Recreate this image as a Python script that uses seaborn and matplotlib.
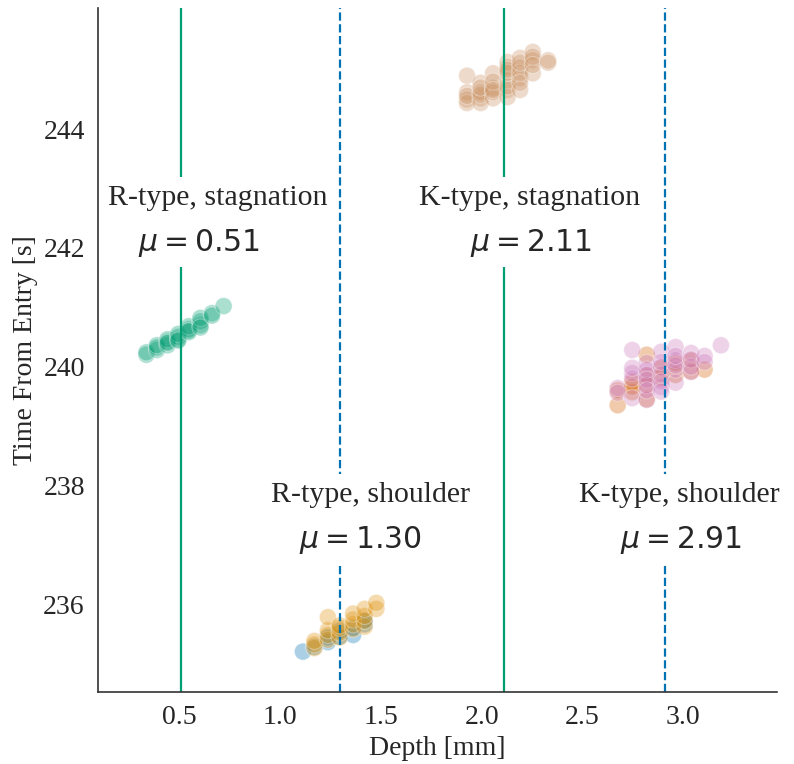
import numpy as np
import pandas as pd
import matplotlib
matplotlib.use("Agg")
import matplotlib.pyplot as plt
import seaborn as sns

# Measured samples: depth [mm] and time from entry [s], per wave group
r_stag_x = [0.338, 0.338, 0.390, 0.390, 0.390, 0.443, 0.443, 0.443, 0.443,
            0.496, 0.496, 0.496, 0.496, 0.548, 0.548, 0.548, 0.548,
            0.606, 0.606, 0.606, 0.606, 0.663, 0.663, 0.721]
r_stag_y = [240.20, 240.24, 240.28, 240.32, 240.36, 240.36, 240.42, 240.46, 240.40,
            240.46, 240.50, 240.55, 240.44, 240.58, 240.63, 240.68, 240.60,
            240.70, 240.76, 240.82, 240.66, 240.90, 240.86, 241.02]

r_sh_a_x = [1.114, 1.171, 1.238, 1.238, 1.296, 1.296, 1.363, 1.363, 1.420, 1.420]
r_sh_a_y = [235.20, 235.28, 235.36, 235.44, 235.45, 235.55, 235.48, 235.60, 235.66, 235.72]
r_sh_b_x = [1.171, 1.171, 1.171, 1.238, 1.238, 1.238, 1.238, 1.296, 1.296, 1.296, 1.296,
            1.363, 1.363, 1.363, 1.363, 1.420, 1.420, 1.420, 1.420, 1.478, 1.478]
r_sh_b_y = [235.26, 235.32, 235.38, 235.40, 235.48, 235.56, 235.78, 235.44, 235.52, 235.60, 235.64,
            235.58, 235.66, 235.74, 235.84, 235.62, 235.72, 235.80, 235.92, 235.92, 236.02]

k_stag_x = [1.928] * 5 + [1.995] * 6 + [2.057] * 6 + [2.129] * 8 + [2.191] * 7 + [2.254] * 5 + [2.330] * 2
k_stag_y = [244.90, 244.62, 244.50, 244.44, 244.56,
            244.78, 244.52, 244.44, 244.62, 244.58, 244.70,
            244.94, 244.70, 244.52, 244.62, 244.80, 244.66,
            245.13, 245.05, 244.82, 244.66, 244.54, 244.72, 244.95, 245.00,
            245.20, 245.04, 244.86, 244.66, 244.95, 244.78, 245.12,
            245.30, 245.16, 244.94, 245.22, 245.08,
            245.16, 245.12]

k_sh_a_x = [2.675, 2.675, 2.747, 2.747, 2.747, 2.819, 2.819, 2.819, 2.819,
            2.891, 2.891, 2.962, 2.962, 3.039, 3.039, 3.106]
k_sh_a_y = [239.35, 239.60, 239.57, 239.74, 239.66, 240.20, 239.45, 239.69, 239.85,
            239.81, 239.98, 239.86, 240.06, 239.92, 240.10, 239.95]
k_sh_b_x = [2.675] * 2 + [2.747] * 5 + [2.819] * 7 + [2.891] * 7 + [2.962] * 6 + [3.039] * 4 + [3.106] * 2 + [3.187]
k_sh_b_y = [239.64, 239.56,
            240.28, 239.89, 239.80, 239.47, 239.98,
            240.06, 239.86, 239.44, 239.69, 239.95, 239.78, 239.60,
            240.25, 239.99, 239.66, 239.87, 240.08, 239.75, 239.58,
            240.33, 240.11, 239.73, 239.95, 240.02, 240.18,
            240.23, 239.91, 240.00, 240.12,
            240.18, 240.08,
            240.36]

group_names = ["r_sh_a", "r_sh_b", "r_stag", "k_sh_a", "k_sh_b", "k_stag"]
group_data = [(r_sh_a_x, r_sh_a_y), (r_sh_b_x, r_sh_b_y), (r_stag_x, r_stag_y),
              (k_sh_a_x, k_sh_a_y), (k_sh_b_x, k_sh_b_y), (k_stag_x, k_stag_y)]

stag_means = [0.51, 2.11]
shoulder_means = [1.30, 2.91]
label_titles = ["R-type, stagnation", "K-type, stagnation", "R-type, shoulder", "K-type, shoulder"]
label_means = [0.51, 2.11, 1.30, 2.91]

frames = [pd.DataFrame({"Depth": gx, "Time": gy, "group": name})
          for name, (gx, gy) in zip(group_names, group_data)]
df = pd.concat(frames, ignore_index=True)

sns.set_theme(style="white")
plt.rcParams["font.family"] = ["Liberation Serif", "DejaVu Serif"]
plt.rcParams["mathtext.fontset"] = "dejavusans"

cb = sns.color_palette("colorblind")
palette = dict(zip(group_names, cb[:6]))

fig = plt.figure(figsize=(7.94, 7.64), dpi=100)
ax = fig.add_axes([98 / 794, 1 - 692 / 764, (777 - 98) / 794, (692 - 8) / 764])

sns.scatterplot(data=df, x="Depth", y="Time", hue="group", palette=palette,
                s=150, alpha=0.33, edgecolor="white", linewidth=0.8,
                legend=False, ax=ax, zorder=2)

for m in stag_means:
    ax.axvline(m, color=cb[2], lw=1.6, zorder=3)
for m in shoulder_means:
    ax.axvline(m, color=cb[0], lw=1.6, ls="--", zorder=3)

box = dict(facecolor="white", edgecolor="none", pad=6)
title_pos = [(0.693, 242.84), (2.240, 242.84), (1.447, 237.84), (2.979, 237.84)]
mean_pos = [(0.599, 242.08), (2.245, 242.08), (1.397, 237.08), (2.989, 237.08)]
for title, m, (tx, ty), (mx, my) in zip(label_titles, label_means, title_pos, mean_pos):
    ax.text(tx, ty, title, ha="center", va="center", fontsize=21.5, bbox=box, zorder=4)
    ax.text(mx, my, rf"$\mu = {m:.2f}$", ha="center", va="center", fontsize=21.5,
            bbox=box, zorder=5)

ax.set_xlim(0.098, 3.465)
ax.set_ylim(234.52, 246.04)
ax.set_xticks([0.5, 1.0, 1.5, 2.0, 2.5, 3.0])
ax.set_yticks([236, 238, 240, 242, 244])
ax.tick_params(labelsize=20)
ax.set_xlabel("Depth [mm]", fontsize=20, labelpad=4)
ax.set_ylabel("Time From Entry [s]", fontsize=20)
sns.despine(ax=ax)
for sp in ax.spines.values():
    sp.set_color("#333333")
    sp.set_linewidth(1.2)
    sp.set_zorder(6)

fig.savefig("out.png", dpi=100)
